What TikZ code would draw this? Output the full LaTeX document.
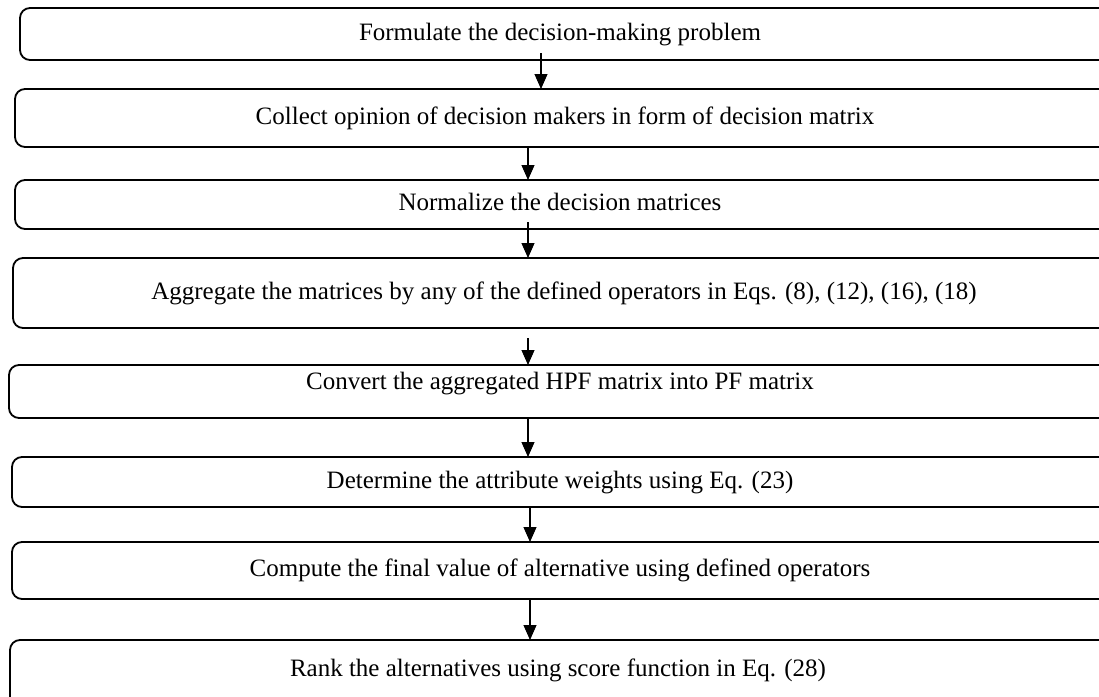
\documentclass[tikz,border=0pt]{standalone}
\usepackage{fontspec}
\setmainfont{Liberation Serif}
\usetikzlibrary{arrows.meta}

\begin{document}
\begin{tikzpicture}[x=1pt,y=-1pt,
    stepbox/.style={draw, line width=1.8pt, rounded corners=10pt, inner sep=0pt, outer sep=0pt,
      anchor=north west, minimum width=1150pt},
    steptext/.style={anchor=base, inner sep=0pt, font=\fontsize{25}{30}\selectfont},
    arr/.style={line width=1.1pt, -{Triangle[width=13pt,length=15pt]}}]
  \useasboundingbox (0,0) rectangle (1099,696);
  \clip (0,0) rectangle (1099,696);
  % Boxes
  \node[stepbox, minimum height=52pt] (b1) at (20,8) {};
  \node[stepbox, minimum height=58pt] (b2) at (15,89) {};
  \node[stepbox, minimum height=49pt] (b3) at (15,180) {};
  \node[stepbox, minimum height=70pt] (b4) at (13,258) {};
  \node[stepbox, minimum height=53pt] (b5) at (9,365) {};
  \node[stepbox, minimum height=50pt] (b6) at (12,457) {};
  \node[stepbox, minimum height=57pt] (b7) at (12,542) {};
  \node[stepbox, minimum height=70pt] (b8) at (10,640) {};
  % Texts
  \node[steptext] (t1) at (560,40) {Formulate the decision-making problem};
  \node[steptext] (t2) at (565,124) {Collect opinion of decision makers in form of decision matrix};
  \node[steptext] (t3) at (560,210) {Normalize the decision matrices};
  \node[steptext] (t4) at (564,299) {Aggregate the matrices by any of the defined operators in Eqs. (8), (12), (16), (18)};
  \node[steptext] (t5) at (560,389) {Convert the aggregated HPF matrix into PF matrix};
  \node[steptext] (t6) at (560,488) {Determine the attribute weights using Eq. (23)};
  \node[steptext] (t7) at (560,576) {Compute the final value of alternative using defined operators};
  \node[steptext] (t8) at (558,676) {Rank the alternatives using score function in Eq. (28)};
  % Arrows
  \coordinate (a1) at (541,0);
  \coordinate (a2) at (528,0);
  \coordinate (a3) at (530,0);
  \draw[arr] ([yshift=7pt]b1.south -| a1) -- (b2.north -| a1);
  \draw[arr] (b2.south -| a2) -- (b3.north -| a2);
  \draw[arr] ([yshift=7pt]b3.south -| a2) -- (b4.north -| a2);
  \draw[arr] ([yshift=-10pt]b4.south -| a2) -- (b5.north -| a2);
  \draw[arr] (b5.south -| a2) -- (b6.north -| a2);
  \draw[arr] (b6.south -| a3) -- (b7.north -| a3);
  \draw[arr] (b7.south -| a3) -- (b8.north -| a3);
\end{tikzpicture}
\end{document}
